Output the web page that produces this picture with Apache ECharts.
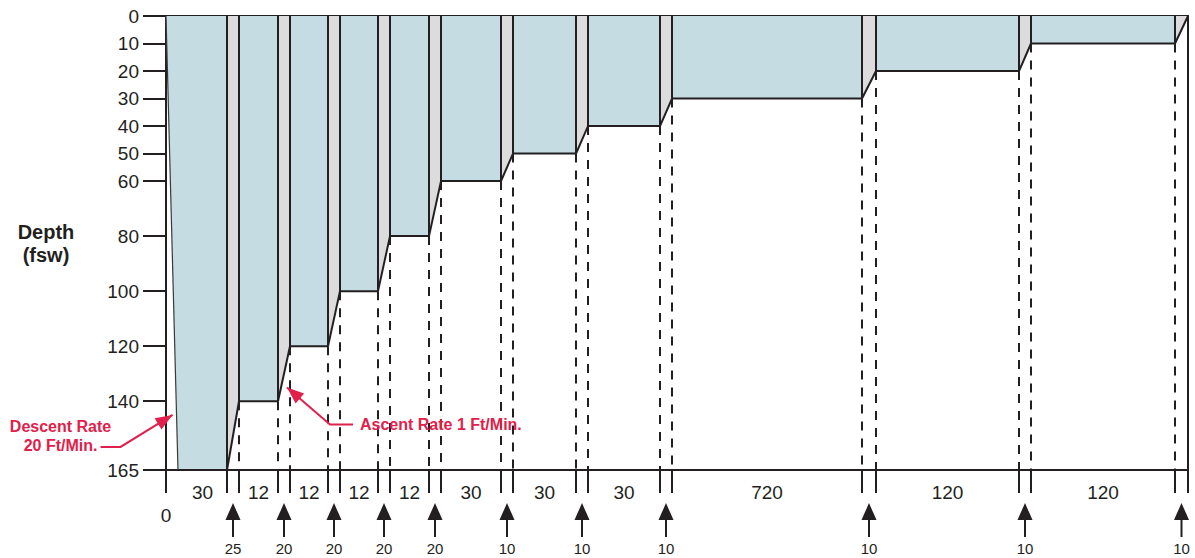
<!DOCTYPE html>
<html>
<head>
<meta charset="utf-8">
<script src="https://cdn.jsdelivr.net/npm/echarts@6/dist/echarts.min.js"></script>
<style>
  html, body { margin: 0; padding: 0; background: #ffffff; }
  #chart { width: 1195px; height: 558px; }
</style>
</head>
<body>
<div id="chart"></div>
<script>
// Depth axis tick labels (fsw)
const depthTicks = [0, 10, 20, 30, 40, 50, 60, 80, 100, 120, 140, 165];
// Hold depths, bottom first (fsw)
const stopDepths = [165, 140, 120, 100, 80, 60, 50, 40, 30, 20, 10];
// Time held at each depth (min)
const stopTimes = [30, 12, 12, 12, 12, 30, 30, 30, 720, 120, 120];
// Travel time up to the next depth (min)
const ascentTimes = [25, 20, 20, 20, 20, 10, 10, 10, 10, 10, 10];
const descentRate = 20; // ft/min
const ascentRate = 1;   // ft/min

// Schematic time axis: drawn width of each phase (not to scale)
const descentSpan = 12;
const holdSpan = [49, 39, 38, 38, 39, 60, 63, 72, 190, 143, 144];
const rampSpan = [12, 12, 12, 12, 12, 12, 12, 12, 14, 12, 13];

const INK = '#231f20';
const RED = '#e1204b';
const BLUE = '#c5dce3';
const GREY = '#dcdcdc';
const FONT = '"Liberation Sans", Arial, Helvetica, sans-serif';

const maxDepth = depthTicks[depthTicks.length - 1];

// Lay the phases out along the schematic axis
const holds = [];
const ramps = [];
let cursor = descentSpan;
for (let i = 0; i < stopDepths.length; i++) {
  const x0 = cursor;
  const x1 = x0 + holdSpan[i];
  holds.push([x0, x1, stopDepths[i], i === 0 ? 1 : 0, stopTimes[i]]);
  const next = i + 1 < stopDepths.length ? stopDepths[i + 1] : 0;
  ramps.push([x1, x1 + rampSpan[i], stopDepths[i], next, ascentTimes[i]]);
  cursor = x1 + rampSpan[i];
}
const xEnd = cursor;

// Phase boundaries get a tick under the time axis
const boundaryTicks = [0];
holds.forEach((h, i) => { boundaryTicks.push(h[1], ramps[i][1]); });
const holdMids = holds.map(h => (h[0] + h[1]) / 2);

function durationLabel(v) {
  let best = 0;
  holdMids.forEach((m, i) => { if (Math.abs(m - v) < Math.abs(holdMids[best] - v)) best = i; });
  return String(stopTimes[best]);
}

function seg(p, q, style) {
  return {
    type: 'line',
    shape: { x1: p[0], y1: p[1], x2: q[0], y2: q[1] },
    style: Object.assign({ stroke: INK, lineWidth: 2, lineCap: 'butt' }, style || {})
  };
}

// Blue hold areas
function renderHoldFill(params, api) {
  const x0 = api.value(0), x1 = api.value(1), d = api.value(2), first = api.value(3);
  const pts = [
    api.coord([first ? 0 : x0, 0]),
    api.coord([x1, 0]),
    api.coord([x1, d]),
    api.coord([x0, d])
  ];
  return { type: 'polygon', shape: { points: pts }, style: { fill: BLUE } };
}

// Grey ascent bands
function renderRampFill(params, api) {
  const x0 = api.value(0), x1 = api.value(1), d0 = api.value(2), d1 = api.value(3);
  const pts = [api.coord([x0, 0]), api.coord([x1, 0]), api.coord([x1, d1]), api.coord([x0, d0])];
  return { type: 'polygon', shape: { points: pts }, style: { fill: GREY } };
}

// Profile outline, hold edges and dashed drop lines
function renderHoldLines(params, api) {
  const x0 = api.value(0), x1 = api.value(1), d = api.value(2), first = api.value(3);
  const children = [seg(api.coord([x0, d]), api.coord([x1, d]))];
  const edges = first ? [x1] : [x0, x1];
  edges.forEach(x => {
    children.push(seg(api.coord([x, 0]), api.coord([x, d])));
    if (d < maxDepth) {
      children.push(seg(api.coord([x, d]), api.coord([x, maxDepth]), { lineDash: [9, 8] }));
    }
  });
  return { type: 'group', children };
}

function renderRampLines(params, api) {
  const x0 = api.value(0), x1 = api.value(1), d0 = api.value(2), d1 = api.value(3);
  return seg(api.coord([x0, d0]), api.coord([x1, d1]));
}

function renderDescent(params, api) {
  return seg(api.coord([0, 0]), api.coord([descentSpan, maxDepth]), { lineWidth: 1.2, stroke: '#3a3a3a' });
}

// Ticks under the time axis at every phase boundary
function renderTimeTick(params, api) {
  const p = api.coord([api.value(0), maxDepth]);
  return seg([p[0], p[1]], [p[0], p[1] + 23]);
}

// Up arrows with ascent times under the time axis
function renderAscentMarks(params, api) {
  const p = api.coord([api.value(0), maxDepth]);
  const x = p[0], y = p[1];
  return {
    type: 'group',
    children: [
      { type: 'polygon', shape: { points: [[x, y + 33], [x + 7.5, y + 50], [x - 7.5, y + 50]] }, style: { fill: INK } },
      seg([x, y + 49], [x, y + 67]),
      { type: 'text', x: x, y: y + 78,
        style: { text: String(api.value(1)), fill: INK, font: '15px ' + FONT, align: 'center', verticalAlign: 'middle' } }
    ]
  };
}

function arrowHead(tip, from, len, width) {
  const dx = tip[0] - from[0], dy = tip[1] - from[1];
  const L = Math.hypot(dx, dy);
  const ux = dx / L, uy = dy / L;
  const bx = tip[0] - ux * len, by = tip[1] - uy * len;
  const nx = -uy * width / 2, ny = ux * width / 2;
  return { type: 'polygon', shape: { points: [tip, [bx + nx, by + ny], [bx - nx, by - ny]] }, style: { fill: RED } };
}

// Red rate call-outs
const callouts = [
  { depth: 145, ramp: -1, dx: -4, knee: [-52, 32], end: [-72, 32], text: 'Descent Rate\n' + descentRate + ' Ft/Min.', tx: -112, ty: 21, align: 'center' },
  { depth: 135, ramp: 1, dx: 6, knee: [43, 37], end: [66, 37], text: 'Ascent Rate ' + ascentRate + ' Ft/Min.', tx: 73, ty: 37, align: 'left' }
];

function calloutX(c) {
  if (c.ramp < 0) return descentSpan * c.depth / maxDepth;
  const r = ramps[c.ramp];
  return r[0] + (r[1] - r[0]) * (r[2] - c.depth) / (r[2] - r[3]);
}

function renderCallout(params, api) {
  const c = callouts[params.dataIndex];
  const a = api.coord([api.value(0), api.value(1)]);
  const tip = [a[0] + c.dx, a[1]];
  const knee = [tip[0] + c.knee[0], tip[1] + c.knee[1]];
  const end = [tip[0] + c.end[0], tip[1] + c.end[1]];
  return {
    type: 'group',
    children: [
      { type: 'polyline', shape: { points: [end, knee, tip] }, style: { stroke: RED, lineWidth: 2, fill: null } },
      arrowHead(tip, knee, 17, 13),
      { type: 'text', x: tip[0] + c.tx, y: tip[1] + c.ty,
        style: { text: c.text, fill: RED, font: 'bold 16px ' + FONT, align: c.align, verticalAlign: 'middle', lineHeight: 19 } }
    ]
  };
}

const chart = echarts.init(document.getElementById('chart'), null, { renderer: 'svg' });

chart.setOption({
  animation: false,
  backgroundColor: '#ffffff',
  grid: { left: 166, right: 7, top: 16, bottom: 88 },
  xAxis: [
    {
      type: 'value', min: 0, max: xEnd, position: 'bottom',
      axisLine: { show: true, onZero: false, lineStyle: { color: INK, width: 2 } },
      axisTick: { show: false },
      axisLabel: { show: true, customValues: holdMids, formatter: durationLabel, margin: 13, color: INK, fontSize: 19, fontFamily: FONT },
      splitLine: { show: false }
    },
    {
      type: 'value', min: 0, max: xEnd, position: 'bottom',
      axisLine: { show: false, onZero: false }, axisTick: { show: false },
      axisLabel: { show: true, customValues: [0], margin: 36, color: INK, fontSize: 19, fontFamily: FONT },
      splitLine: { show: false }
    },
    {
      type: 'value', min: 0, max: xEnd, position: 'top',
      axisLine: { show: true, onZero: false, lineStyle: { color: INK, width: 2 } },
      axisTick: { show: false }, axisLabel: { show: false }, splitLine: { show: false }
    }
  ],
  yAxis: [
    {
      type: 'value', inverse: true, min: 0, max: maxDepth, position: 'left',
      name: 'Depth\n(fsw)', nameLocation: 'middle', nameRotate: 0, nameGap: 120,
      nameTextStyle: { color: INK, fontWeight: 'bold', fontSize: 20, fontFamily: FONT, align: 'center', lineHeight: 23 },
      axisLine: { show: true, onZero: false, lineStyle: { color: INK, width: 2 } },
      axisTick: { show: true, customValues: depthTicks, length: 23, lineStyle: { color: INK, width: 2 } },
      axisLabel: { show: true, customValues: depthTicks, margin: 27, color: INK, fontSize: 19, fontFamily: FONT },
      splitLine: { show: false }
    },
    {
      type: 'value', inverse: true, min: 0, max: maxDepth, position: 'right',
      axisLine: { show: true, onZero: false, lineStyle: { color: INK, width: 2 } },
      axisTick: { show: false }, axisLabel: { show: false }, splitLine: { show: false }
    }
  ],
  series: [
    { type: 'custom', name: 'holds', renderItem: renderHoldFill, data: holds, z: 1, silent: true },
    { type: 'custom', name: 'ascents', renderItem: renderRampFill, data: ramps, z: 1, silent: true },
    { type: 'custom', name: 'descent', renderItem: renderDescent, data: [[0, 0]], z: 3, silent: true },
    { type: 'custom', name: 'hold lines', renderItem: renderHoldLines, data: holds, z: 4, silent: true },
    { type: 'custom', name: 'ascent lines', renderItem: renderRampLines, data: ramps, z: 4, silent: true },
    { type: 'custom', name: 'time ticks', renderItem: renderTimeTick, clip: false, silent: true,
      data: boundaryTicks.map(v => [v]), z: 5 },
    { type: 'custom', name: 'ascent times', renderItem: renderAscentMarks, clip: false, silent: true,
      data: ramps.map(r => [(r[0] + r[1]) / 2, r[4]]), z: 5 },
    { type: 'custom', name: 'rates', renderItem: renderCallout, clip: false, silent: true,
      data: callouts.map(c => [calloutX(c), c.depth]), z: 6 }
  ]
});
</script>
</body>
</html>
